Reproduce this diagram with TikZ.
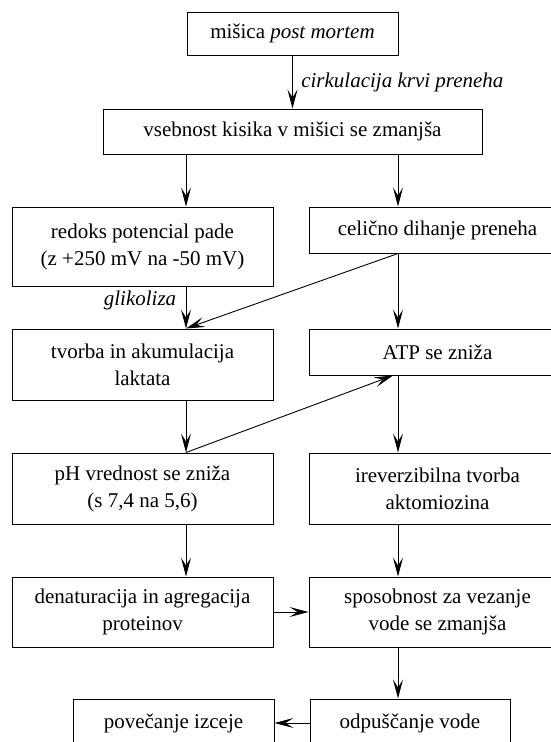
\documentclass[tikz,border=0pt]{standalone}
\usepackage{fontspec}
\setmainfont{Liberation Serif}
\newfontfamily\timesfont{Liberation Serif}
\usetikzlibrary{arrows.meta, calc}
\tikzset{
  box/.style   = {draw, line width=1pt, align=center, inner sep=2pt,
                  font=\timesfont\fontsize{21}{27}\selectfont},
  arrow/.style = {-{Stealth[length=19pt, width=10pt, inset=8pt]}, line width=0.9pt},
  lbl/.style   = {font=\timesfont\fontsize{21}{27}\selectfont\itshape},
}

\begin{document}
\begin{tikzpicture}[x=1pt, y=1pt]
  \clip (0,0) rectangle (551,-742);
  % column axes for the arrows
  \coordinate (lx) at (186,0);
  \coordinate (rx) at (398,0);
  \coordinate (ax) at (393,0);
  % boxes
  \node[box, minimum width=211, minimum height=43] (top) at (292.5,-33.5) {mišica \textit{post mortem}};
  \node[box, minimum width=379, minimum height=45] (oxy) at (292.5,-131.5) {vsebnost kisika v mišici se zmanjša};
  \node[box, minimum width=261, minimum height=79] (redoks) at (142.5,-246.5) {redoks potencial pade\\(z +250 mV na -50 mV)};
  \node[box, minimum width=257, minimum height=46] (celicno) at (437.5,-230) {celično dihanje preneha};
  \node[box, minimum width=261, minimum height=71] (tvorba) at (142.5,-364.5) {tvorba in akumulacija\\laktata};
  \node[box, minimum width=257, minimum height=46] (atp) at (437.5,-352) {ATP se zniža};
  \node[box, minimum width=261, minimum height=71] (ph) at (142.5,-488.5) {pH vrednost se zniža\\(s 7,4 na 5,6)};
  \node[box, minimum width=257, minimum height=71] (irev) at (437.5,-488.5) {ireverzibilna tvorba\\aktomiozina};
  \node[box, minimum width=261, minimum height=70] (denat) at (142.5,-612) {denaturacija in agregacija\\proteinov};
  \node[box, minimum width=257, minimum height=70] (spos) at (437.5,-612) {sposobnost za vezanje\\vode se zmanjša};
  \node[box, minimum width=201, minimum height=48] (povec) at (173.5,-723) {povečanje izceje};
  \node[box, minimum width=200, minimum height=48] (odpusc) at (410,-723) {odpuščanje vode};
  % arrows
  \draw[arrow] (top) -- node[lbl, right=5pt] {cirkulacija krvi preneha} (oxy);
  \draw[arrow] (redoks.south -| lx) -- node[lbl, left=6pt, pos=0.33] {glikoliza} (tvorba.north -| lx);
  \foreach \a/\b in {oxy/redoks, tvorba/ph, ph/denat}
    \draw[arrow] (\a.south -| lx) -- (\b.north -| lx);
  \foreach \a/\b in {oxy/celicno, celicno/atp, atp/irev, irev/spos, spos/odpusc}
    \draw[arrow] (\a.south -| rx) -- (\b.north -| rx);
  \draw[arrow] (celicno.south -| rx) -- (tvorba.north -| lx);
  \draw[arrow] (ph.north -| lx) -- (atp.south -| ax);
  \draw[arrow] (denat) -- (spos);
  \draw[arrow] (odpusc) -- (povec);
\end{tikzpicture}
\end{document}
